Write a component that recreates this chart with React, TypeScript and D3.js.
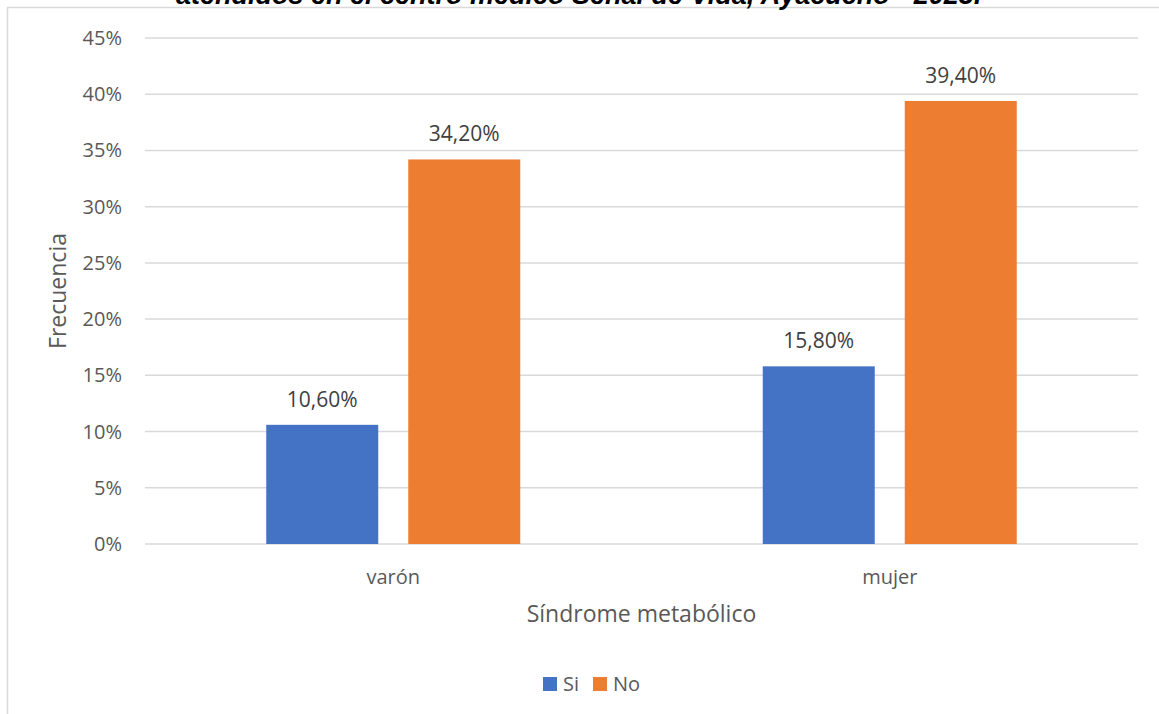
import React from "react";
import * as d3 from "d3";

const categories = ["varón", "mujer"];
const seriesNames = ["Si", "No"];
const siValues = [10.6, 15.8];
const noValues = [34.2, 39.4];
const yTicks = [0, 5, 10, 15, 20, 25, 30, 35, 40, 45];

const title = "atendidos en el centro médico Señal de Vida, Ayacucho - 2023.";
const xTitle = "Síndrome metabólico";
const yTitle = "Frecuencia";

const colors: Record<string, string> = { Si: "#4472C4", No: "#ED7D31" };
const textColor = "#595959";
const gridColor = "#D9D9D9";
const font = "'Open Sans', 'Noto Sans', sans-serif";

const W = 1159;
const H = 714;
const plot = { left: 145, right: 1138, top: 38, bottom: 544 };

const fmt = (v: number) => v.toFixed(2).replace(".", ",") + "%";

export default function App() {
  const y = d3.scaleLinear().domain([0, 45]).range([plot.bottom, plot.top]);
  const x0 = d3
    .scaleBand<string>()
    .domain(categories)
    .range([plot.left, plot.right])
    .paddingInner(0.4884)
    .paddingOuter(0.2442);
  const x1 = d3
    .scaleBand<string>()
    .domain(seriesNames)
    .range([0, x0.bandwidth()])
    .paddingInner(0.2113)
    .paddingOuter(0);

  const rows = categories.map((c, i) => ({
    category: c,
    values: [
      { key: "Si", value: siValues[i] },
      { key: "No", value: noValues[i] },
    ],
  }));

  return (
    <svg
      width={W}
      height={H}
      style={{ position: "absolute", left: 0, top: 0, display: "block" }}
    >
      <rect x={0} y={0} width={W} height={H} fill="#fff" />
      {/* chart frame */}
      <path
        d={`M7.5,${H} V7.5 H${W}`}
        fill="none"
        stroke={gridColor}
        strokeWidth={1.5}
      />
      <text
        x={176}
        y={4}
        fontFamily="'Liberation Sans', Arial, sans-serif"
        fontStyle="italic"
        fontWeight="bold"
        fontSize={27}
        fill="#000"
      >
        {title}
      </text>

      {/* gridlines and y tick labels */}
      {yTicks.map((t) => (
        <g key={t}>
          <line
            x1={plot.left}
            x2={plot.right}
            y1={y(t)}
            y2={y(t)}
            stroke={gridColor}
            strokeWidth={1.5}
          />
          <text
            x={122}
            y={y(t)}
            dy="0.35em"
            textAnchor="end"
            fontFamily={font}
            fontSize={20}
            fill={textColor}
          >
            {t}%
          </text>
        </g>
      ))}

      {/* bars with value labels */}
      {rows.map((r) => (
        <g key={r.category} transform={`translate(${x0(r.category)},0)`}>
          {r.values.map((v) => (
            <g key={v.key}>
              <rect
                x={x1(v.key)}
                y={y(v.value)}
                width={x1.bandwidth()}
                height={y(0) - y(v.value)}
                fill={colors[v.key]}
              />
              <text
                x={(x1(v.key) as number) + x1.bandwidth() / 2}
                y={y(v.value) - 18}
                textAnchor="middle"
                fontFamily={font}
                fontSize={21}
                fill="#404040"
              >
                {fmt(v.value)}
              </text>
            </g>
          ))}
        </g>
      ))}

      {/* category labels */}
      {categories.map((c) => (
        <text
          key={c}
          x={(x0(c) as number) + x0.bandwidth() / 2}
          y={584}
          textAnchor="middle"
          fontFamily={font}
          fontSize={20}
          fill={textColor}
        >
          {c}
        </text>
      ))}

      {/* axis titles */}
      <text
        x={(plot.left + plot.right) / 2}
        y={622}
        textAnchor="middle"
        fontFamily={font}
        fontSize={23}
        fill={textColor}
      >
        {xTitle}
      </text>
      <text
        transform={`translate(66,${(plot.top + plot.bottom) / 2}) rotate(-90)`}
        textAnchor="middle"
        fontFamily={font}
        fontSize={23}
        fill={textColor}
      >
        {yTitle}
      </text>

      {/* legend */}
      {seriesNames.map((s, i) => {
        const lx = [543, 593][i];
        return (
          <g key={s}>
            <rect x={lx} y={677} width={14} height={14} fill={colors[s]} />
            <text
              x={lx + 20}
              y={691}
              fontFamily={font}
              fontSize={20}
              fill={textColor}
            >
              {s}
            </text>
          </g>
        );
      })}
    </svg>
  );
}
